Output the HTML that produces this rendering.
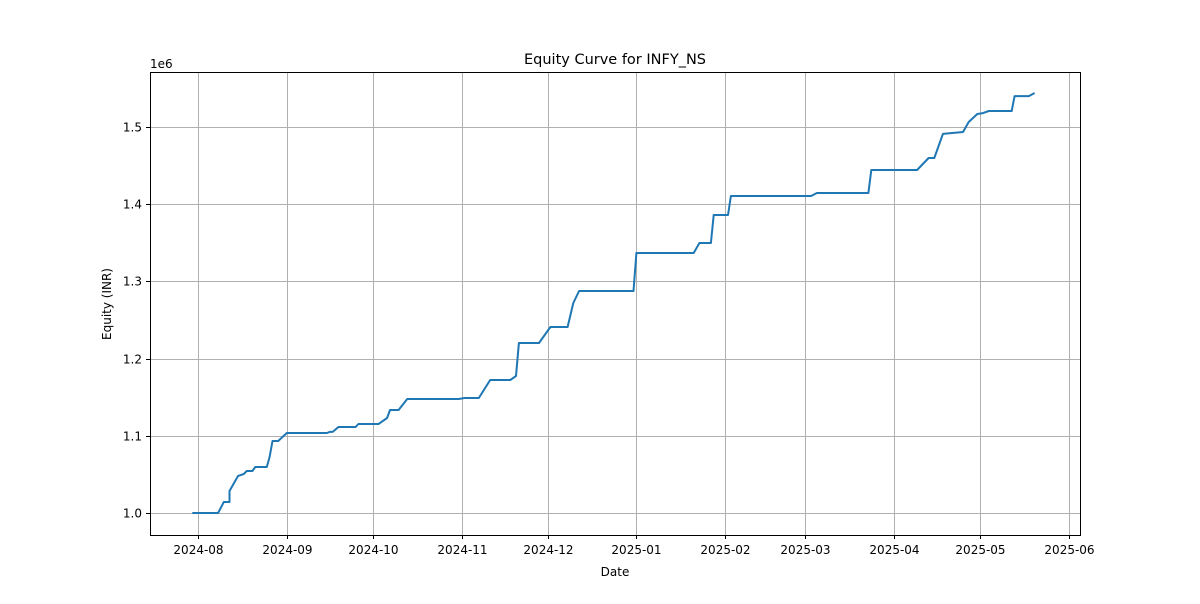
<!DOCTYPE html>
<html><head><meta charset="utf-8"><style>
body{margin:0;background:#fff;font-family:"DejaVu Sans","Liberation Sans",sans-serif}
svg text{font-family:"DejaVu Sans","Liberation Sans",sans-serif;fill:#000}
</style></head><body>
<svg id="chart" width="1200" height="600" xmlns="http://www.w3.org/2000/svg">
<rect width="1200" height="600" fill="#fff"/>
<g id="grid"></g>
<g id="axes"></g>
<path id="line" fill="none" stroke="#1f77b4" stroke-width="2" stroke-linejoin="round"/>
<rect x="150.5" y="72.5" width="930" height="463" fill="none" stroke="#000" stroke-width="1"/>
<text x="615" y="64" font-size="14.5" text-anchor="middle">Equity Curve for INFY_NS</text>
<text x="150" y="68" font-size="12">1e6</text>
<text transform="translate(111,304) rotate(-90)" font-size="12" text-anchor="middle">Equity (INR)</text>
<text x="615" y="576" font-size="12" text-anchor="middle">Date</text>
</svg>
<script>
const dates=["2024-07-30","2024-08-08","2024-08-10","2024-08-12","2024-08-12","2024-08-15","2024-08-17","2024-08-18","2024-08-20","2024-08-21","2024-08-25","2024-08-26","2024-08-27","2024-08-29","2024-09-01","2024-09-15","2024-09-16","2024-09-17","2024-09-19","2024-09-25","2024-09-26","2024-10-03","2024-10-06","2024-10-07","2024-10-10","2024-10-13","2024-10-31","2024-11-02","2024-11-07","2024-11-11","2024-11-18","2024-11-20","2024-11-21","2024-11-28","2024-12-02","2024-12-08","2024-12-10","2024-12-12","2024-12-31","2025-01-01","2025-01-21","2025-01-23","2025-01-27","2025-01-28","2025-02-02","2025-02-03","2025-03-03","2025-03-05","2025-03-23","2025-03-24","2025-04-09","2025-04-13","2025-04-15","2025-04-18","2025-04-25","2025-04-27","2025-04-30","2025-05-02","2025-05-04","2025-05-12","2025-05-13","2025-05-18","2025-05-20"];
const equity=[1.0,1.0,1.0142,1.0142,1.0285,1.048,1.0505,1.0544,1.0544,1.0596,1.0596,1.0725,1.0933,1.0933,1.1036,1.1036,1.105,1.105,1.1114,1.1114,1.1153,1.1153,1.123,1.1334,1.1334,1.1477,1.1477,1.149,1.149,1.1723,1.1723,1.1775,1.2202,1.2202,1.2409,1.2409,1.272,1.2876,1.2876,1.3368,1.3368,1.3497,1.3497,1.386,1.386,1.4106,1.4106,1.4145,1.4145,1.4443,1.4443,1.4598,1.4598,1.491,1.4935,1.5065,1.5168,1.518,1.5207,1.5207,1.540,1.540,1.544];
const yTicks=[1.0,1.1,1.2,1.3,1.4,1.5];
const xTickLabels=["2024-08","2024-09","2024-10","2024-11","2024-12","2025-01","2025-02","2025-03","2025-04","2025-05","2025-06"];
const NS="http://www.w3.org/2000/svg";
const t0=Date.UTC(2024,7,1),t1=Date.UTC(2025,5,1);
function ms(s){const p=s.split("-").map(Number);return Date.UTC(p[0],p[1]-1,p[2]||1);}
function xs(t){return 198+(t-t0)/(t1-t0)*(1069-198);}
function ys(v){return 513-(v-1.0)/0.5*(513-127);}
const grid=document.getElementById("grid"),axes=document.getElementById("axes");
function mk(tag,attrs,parent){const e=document.createElementNS(NS,tag);for(const k in attrs)e.setAttribute(k,attrs[k]);parent.appendChild(e);return e;}
yTicks.forEach(v=>{const y=Math.round(ys(v))+0.5;
 const g=mk("line",{x1:150,x2:1080,y1:y,y2:y,stroke:"#b0b0b0","stroke-width":1},grid);
 
 
 const tk=mk("line",{x1:146,x2:150,y1:y,y2:y,stroke:"#000"},axes);
 
 
 const t=mk("text",{x:142,y:y+4,"font-size":12,"text-anchor":"end"},axes);t.textContent=v.toFixed(1);
 
 
});
xTickLabels.forEach(s=>{const x=Math.round(xs(ms(s)))+0.5;
 const g=mk("line",{x1:x,x2:x,y1:72,y2:535,stroke:"#b0b0b0","stroke-width":1},grid);
 
 
 const tk=mk("line",{x1:x,x2:x,y1:535,y2:539,stroke:"#000"},axes);
 
 
 const t=mk("text",{x:x,y:554,"font-size":12,"text-anchor":"middle"},axes);t.textContent=s;
 
 
});
document.getElementById("line").setAttribute("d",dates.map((d,i)=>(i?"L":"M")+xs(ms(d)).toFixed(1)+","+ys(equity[i]).toFixed(1)).join(""));
</script>
</body></html>
